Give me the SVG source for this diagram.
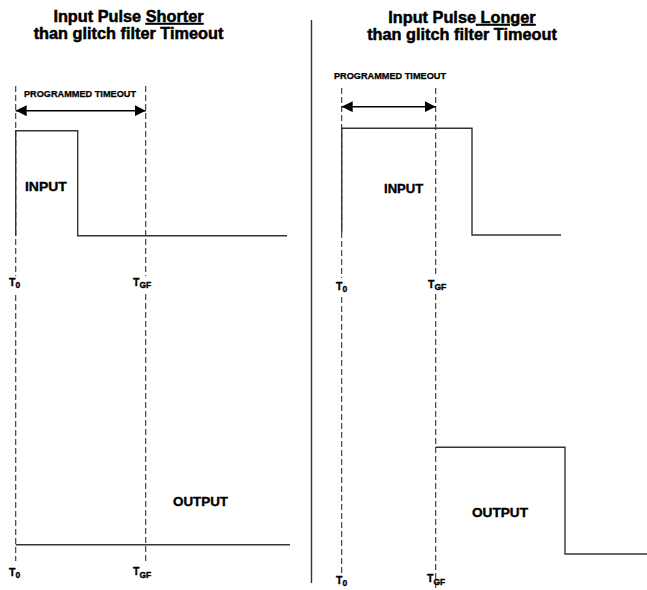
<svg xmlns="http://www.w3.org/2000/svg" width="647" height="590" viewBox="0 0 647 590">
<style>
text{font-family:"Liberation Sans",Arial,sans-serif;font-weight:bold;fill:#000;stroke:#000;stroke-width:0.35}
.title{font-size:16.3px;text-anchor:middle;stroke-width:0.5}
.lbl{font-size:13px}
.small{font-size:8.5px;stroke-width:0.25}
.t{font-size:10.5px}
.sub{font-size:8.5px}
.sig{fill:none;stroke:#333;stroke-width:1.4}
.dash{fill:none;stroke:#333;stroke-width:1.1;stroke-dasharray:6,3}
.arrow{stroke:#000;stroke-width:1.4;marker-start:url(#ah);marker-end:url(#ah)}
</style>
<defs>
<marker id="ah" viewBox="0 0 10 10" refX="10" refY="5" markerWidth="11" markerHeight="11" markerUnits="userSpaceOnUse" orient="auto-start-reverse">
<path d="M0,0 L10,5 L0,10 Z" fill="#000"/>
</marker>
</defs>
<rect width="647" height="590" fill="#fff"/>

<g id="titles">
<text class="title" x="128.5" y="22">Input Pulse <tspan text-decoration="underline">Shorter</tspan></text>
<text class="title" x="128.5" y="39">than glitch filter Timeout</text>
<text class="title" x="462" y="23">Input Pulse<tspan text-decoration="underline"> Longer</tspan></text>
<text class="title" x="462" y="40">than glitch filter Timeout</text>
</g>

<g id="connectors">
<line class="sig" x1="311.5" y1="20" x2="311.5" y2="583"/>
<line class="dash" x1="15.7" y1="86" x2="15.7" y2="276"/>
<line class="dash" x1="15.7" y1="295" x2="15.7" y2="561"/>
<line class="dash" x1="145.7" y1="86" x2="145.7" y2="276"/>
<line class="dash" x1="145.7" y1="294" x2="145.7" y2="561"/>
<line class="dash" x1="341.7" y1="88" x2="341.7" y2="278"/>
<line class="dash" x1="341.7" y1="297" x2="341.7" y2="575"/>
<line class="dash" x1="435.7" y1="88" x2="435.7" y2="276"/>
<line class="dash" x1="435.7" y1="294" x2="435.7" y2="590"/>
<line class="arrow" x1="15.7" y1="110.7" x2="145.7" y2="110.7"/>
<line class="arrow" x1="341.7" y1="106.7" x2="435.7" y2="106.7"/>
</g>

<g id="left-input">
<polyline class="sig" points="15.7,236 15.7,130.7 77.7,130.7 77.7,235.7 287,235.7"/>
<text class="lbl" x="25" y="190.7" textLength="41.7" lengthAdjust="spacingAndGlyphs">INPUT</text>
</g>
<g id="left-output">
<line class="sig" x1="15.7" y1="544.7" x2="290" y2="544.7"/>
<text class="lbl" x="173" y="505.7" textLength="55" lengthAdjust="spacingAndGlyphs">OUTPUT</text>
</g>
<g id="right-input">
<polyline class="sig" points="341.7,232 341.7,128.3 472,128.3 472,235 561,235"/>
<text class="lbl" x="384" y="192.7" textLength="39.3" lengthAdjust="spacingAndGlyphs">INPUT</text>
</g>
<g id="right-output">
<polyline class="sig" points="435.7,447.3 565,447.3 565,554 647,554"/>
<text class="lbl" x="472" y="517" textLength="56" lengthAdjust="spacingAndGlyphs">OUTPUT</text>
</g>

<g id="labels">
<text class="small" x="24" y="96.7" textLength="112" lengthAdjust="spacingAndGlyphs">PROGRAMMED TIMEOUT</text>
<text class="small" x="334" y="79.3" textLength="112" lengthAdjust="spacingAndGlyphs">PROGRAMMED TIMEOUT</text>
<text class="t" x="9" y="286">T<tspan class="sub" dy="2">0</tspan></text>
<text class="t" x="133" y="285.5">T<tspan class="sub" dy="2.5">GF</tspan></text>
<text class="t" x="9" y="576">T<tspan class="sub" dy="2">0</tspan></text>
<text class="t" x="133" y="575">T<tspan class="sub" dy="2.5">GF</tspan></text>
<text class="t" x="336" y="290">T<tspan class="sub" dy="2">0</tspan></text>
<text class="t" x="428" y="287.5">T<tspan class="sub" dy="2.5">GF</tspan></text>
<text class="t" x="336" y="584">T<tspan class="sub" dy="2">0</tspan></text>
<text class="t" x="427" y="582">T<tspan class="sub" dy="2.5">GF</tspan></text>
</g>
</svg>
